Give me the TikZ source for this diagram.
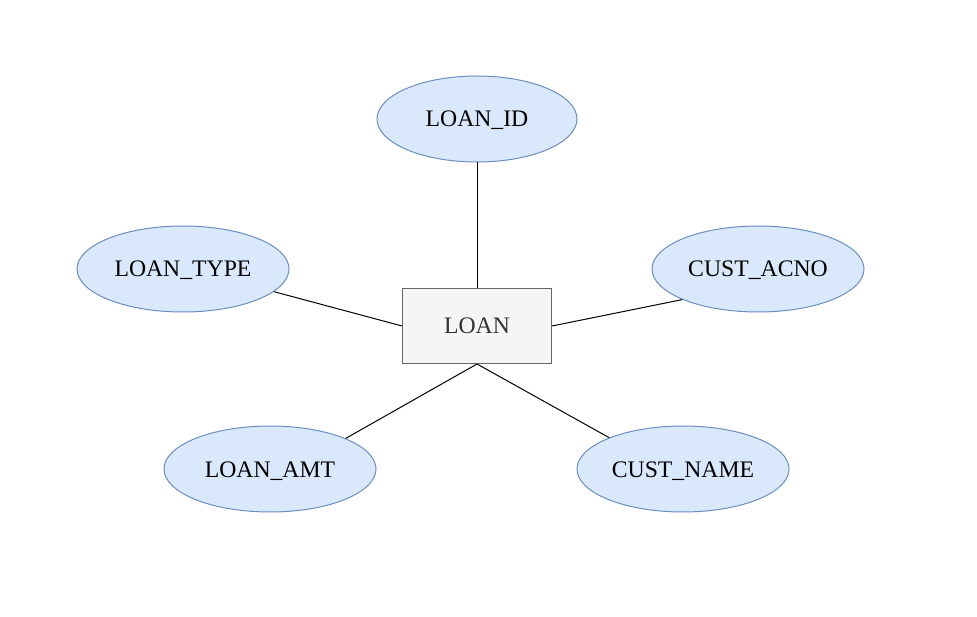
\documentclass[tikz,border=0pt]{standalone}
\usepackage{fontspec}
\setmainfont{Liberation Serif}
\usetikzlibrary{shapes.geometric}
\definecolor{attrfill}{HTML}{DAE8FC}
\definecolor{attrdraw}{HTML}{6C8EBF}
\definecolor{entfill}{HTML}{F5F5F5}
\definecolor{entdraw}{HTML}{666666}
\definecolor{enttext}{HTML}{333333}
\tikzset{
  attr/.style={ellipse, draw=attrdraw, fill=attrfill, line width=1pt, inner sep=0pt,
    text height=16pt, text depth=0pt, font=\fontsize{23.7}{28}\selectfont},
  entity/.style={rectangle, draw=entdraw, fill=entfill, line width=1pt, inner sep=0pt,
    text height=16pt, text depth=0pt,
    minimum width=149pt, minimum height=75pt, text=enttext, font=\fontsize{23.7}{28}\selectfont},
  link/.style={draw=black, line width=1pt}
}
\begin{document}
\begin{tikzpicture}[x=1pt,y=-1pt]
\useasboundingbox (0,0) rectangle (977,617);
\node[entity] (loan) at (477,326) {LOAN};
\node[attr, minimum width=200pt, minimum height=86pt] (id) at (477,119) {LOAN\_ID};
\node[attr, minimum width=212pt, minimum height=86pt] (type) at (183,269) {LOAN\_TYPE};
\node[attr, minimum width=212pt, minimum height=86pt] (acno) at (758,269) {CUST\_ACNO};
\node[attr, minimum width=212pt, minimum height=86pt] (amt) at (270,469) {LOAN\_AMT};
\node[attr, minimum width=212pt, minimum height=86pt] (name) at (683,469) {CUST\_NAME};
\draw[link] (loan.north) -- (id.south);
\draw[link] (loan.west) -- (type.-14.6);
\draw[link] (loan.east) -- (acno.202.7);
\draw[link] (loan.south) -- (amt.22.5);
\draw[link] (loan.south) -- (name.157.5);
\end{tikzpicture}
\end{document}
